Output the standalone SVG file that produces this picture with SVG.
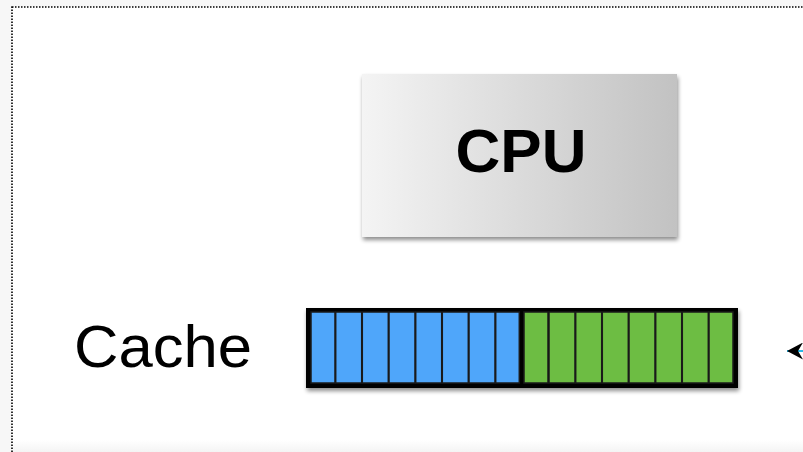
<svg xmlns="http://www.w3.org/2000/svg" width="803" height="452" viewBox="0 0 803 452">
<defs>
<linearGradient id="cpuGrad" x1="0" y1="0" x2="1" y2="0">
<stop offset="0" stop-color="#f4f4f4"/>
<stop offset="1" stop-color="#c2c2c2"/>
</linearGradient>
<linearGradient id="bottomShade" x1="0" y1="0" x2="0" y2="1">
<stop offset="0" stop-color="#ffffff"/>
<stop offset="1" stop-color="#f4f4f4"/>
</linearGradient>
<filter id="shadow" x="-10%" y="-10%" width="125%" height="130%">
<feGaussianBlur in="SourceAlpha" stdDeviation="2"/>
<feOffset dx="1" dy="3" result="b"/>
<feComponentTransfer><feFuncA type="linear" slope="0.45"/></feComponentTransfer>
<feMerge><feMergeNode/><feMergeNode in="SourceGraphic"/></feMerge>
</filter>
<marker id="arrowL" viewBox="0 0 16 17" refX="16" refY="8.5" markerWidth="16" markerHeight="17" markerUnits="userSpaceOnUse" orient="auto">
<path d="M0,0 L16,8.5 L0,17 L5,8.5 Z" fill="#000"/>
</marker>
<style>
.cell-b { fill: #4fa6fa; stroke: #1a1a1a; stroke-width: 1.5; }
.cell-g { fill: #6dbd43; stroke: #1a1a1a; stroke-width: 1.5; }
.lbl { font-family: "Liberation Sans", Arial, sans-serif; fill: #000; }
</style>
</defs>
<rect x="0" y="0" width="803" height="452" fill="#f7f7f7"/>
<rect x="12" y="7" width="800" height="450" fill="#ffffff"/>
<rect x="13" y="440" width="790" height="12" fill="url(#bottomShade)"/>
<rect x="12" y="7" width="800" height="450" fill="none" stroke="#000" stroke-width="1.6" stroke-dasharray="1.5 1.5"/>

<g id="cpu">
<rect x="362" y="74" width="315" height="163" fill="url(#cpuGrad)" filter="url(#shadow)"/>
<text class="lbl" x="521" y="172" font-size="62" font-weight="bold" text-anchor="middle">CPU</text>
</g>

<g id="cache-label">
<text class="lbl" x="74" y="367" font-size="59" textLength="178" lengthAdjust="spacingAndGlyphs">Cache</text>
</g>

<g id="cache">
<rect x="306" y="308" width="432" height="80" fill="#000" filter="url(#shadow)"/>
<rect class="cell-b" x="311" y="312" width="24" height="71"/>
<rect class="cell-b" x="335.7" y="312" width="26" height="71"/>
<rect class="cell-b" x="362.3" y="312" width="26" height="71"/>
<rect class="cell-b" x="389" y="312" width="26" height="71"/>
<rect class="cell-b" x="415.7" y="312" width="26" height="71"/>
<rect class="cell-b" x="442.3" y="312" width="26" height="71"/>
<rect class="cell-b" x="469" y="312" width="26" height="71"/>
<rect class="cell-b" x="495.7" y="312" width="23.6" height="71"/>
<rect class="cell-g" x="524" y="312" width="24" height="71"/>
<rect class="cell-g" x="549" y="312" width="26" height="71"/>
<rect class="cell-g" x="575.7" y="312" width="26" height="71"/>
<rect class="cell-g" x="602.3" y="312" width="26" height="71"/>
<rect class="cell-g" x="629" y="312" width="26" height="71"/>
<rect class="cell-g" x="655.7" y="312" width="26" height="71"/>
<rect class="cell-g" x="682.3" y="312" width="26" height="71"/>
<rect class="cell-g" x="709" y="312" width="24" height="71"/>
</g>

<g id="connectors">
<line x1="812" y1="351" x2="787" y2="351" stroke="#29b8e8" stroke-width="2" marker-end="url(#arrowL)"/>
</g>
</svg>
